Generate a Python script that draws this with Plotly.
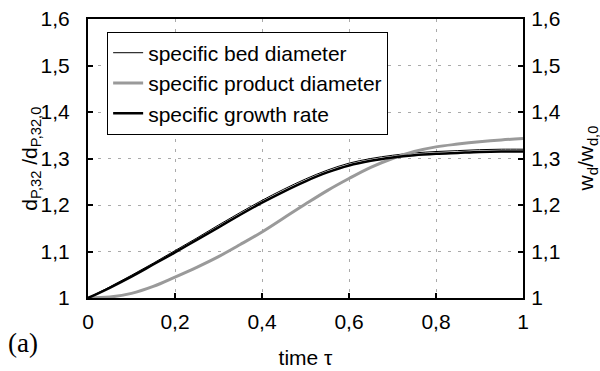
import plotly.graph_objects as go

tau = [0, 0.05, 0.1, 0.15, 0.2, 0.25, 0.3, 0.35, 0.4, 0.45, 0.5,
       0.55, 0.6, 0.65, 0.7, 0.75, 0.8, 0.85, 0.9, 0.95, 1.0]
bed_diameter = [1.0, 1.024, 1.049, 1.075, 1.102, 1.129, 1.157, 1.184, 1.210, 1.234, 1.256,
                1.275, 1.290, 1.300, 1.307, 1.312, 1.315, 1.317, 1.319, 1.320, 1.320]
product_diameter = [1.0, 1.002, 1.010, 1.025, 1.045, 1.066, 1.089, 1.115, 1.142, 1.172, 1.202,
                    1.231, 1.257, 1.281, 1.300, 1.315, 1.325, 1.331, 1.336, 1.340, 1.343]
growth_rate = [1.0, 1.022, 1.046, 1.072, 1.098, 1.125, 1.152, 1.179, 1.205, 1.229, 1.251,
               1.270, 1.285, 1.295, 1.302, 1.307, 1.310, 1.312, 1.314, 1.315, 1.315]

x_ticks = [0, 0.2, 0.4, 0.6, 0.8, 1]
y_ticks = [1, 1.1, 1.2, 1.3, 1.4, 1.5, 1.6]

fam = "Liberation Sans, Arial, sans-serif"
font = dict(family=fam, size=21, color="black")

fig = go.Figure()
fig.add_trace(go.Scatter(x=tau, y=bed_diameter, mode="lines", name="specific bed diameter",
                         legendgroup="a",
                         line=dict(color="black", width=1, shape="spline")))
fig.add_trace(go.Scatter(x=tau, y=product_diameter, mode="lines", name="specific product diameter",
                         legendgroup="b",
                         line=dict(color="#9a9a9a", width=3, shape="spline")))
fig.add_trace(go.Scatter(x=tau, y=growth_rate, mode="lines", name="specific growth rate",
                         legendgroup="c",
                         yaxis="y2", line=dict(color="black", width=2.5, shape="spline")))

axis_common = dict(showline=True, linecolor="black", linewidth=2, ticks="inside",
                   ticklen=5, tickwidth=1.5, tickcolor="black", zeroline=False,
                   tickfont=font, automargin=False)

fig.update_layout(
    width=600, height=371,
    margin=dict(l=88, r=77, t=19, b=73),
    paper_bgcolor="white", plot_bgcolor="white",
    separators=",.",
    font=font,
    showlegend=True,
    legend=dict(x=0.044, y=0.955, xanchor="left", yanchor="top",
                bordercolor="black", borderwidth=1, bgcolor="white",
                font=font, tracegroupgap=0, itemwidth=30),
    xaxis=dict(range=[0, 1], tickvals=x_ticks, mirror=True,
               showgrid=True, gridcolor="#aaaaaa", griddash="3px,7px", gridwidth=1,
               title=dict(text="time τ", font=font, standoff=18),
               ticklabelstandoff=4, **axis_common),
    yaxis=dict(range=[1, 1.6], tickvals=y_ticks, mirror=True,
               showgrid=True, gridcolor="#aaaaaa", griddash="3px,7px", gridwidth=1,
               ticklabelstandoff=12, **axis_common),
    yaxis2=dict(range=[1, 1.6], tickvals=y_ticks, overlaying="y", side="right",
                showgrid=False,
                ticklabelstandoff=2, **axis_common),
    annotations=[
        dict(text="d<sub>P,32</sub> /d<sub>P,32,0</sub>", xref="paper", yref="paper",
             x=-0.133, y=0.5, xanchor="center", yanchor="middle", textangle=-90,
             showarrow=False, font=font),
        dict(text="w<sub>d</sub>/w<sub>d,0</sub>", xref="paper", yref="paper",
             x=1.147, y=0.5, xanchor="center", yanchor="middle", textangle=-90,
             showarrow=False, font=font),
        dict(text="(a)", xref="paper", yref="paper", x=-0.188, y=-0.1,
             xanchor="left", yanchor="top", showarrow=False,
             font=dict(family="Liberation Serif, Times New Roman, serif", size=27, color="black")),
    ],
)

fig.write_html("out.html", config={"displayModeBar": False},
               post_script="document.body.style.margin='0';")
